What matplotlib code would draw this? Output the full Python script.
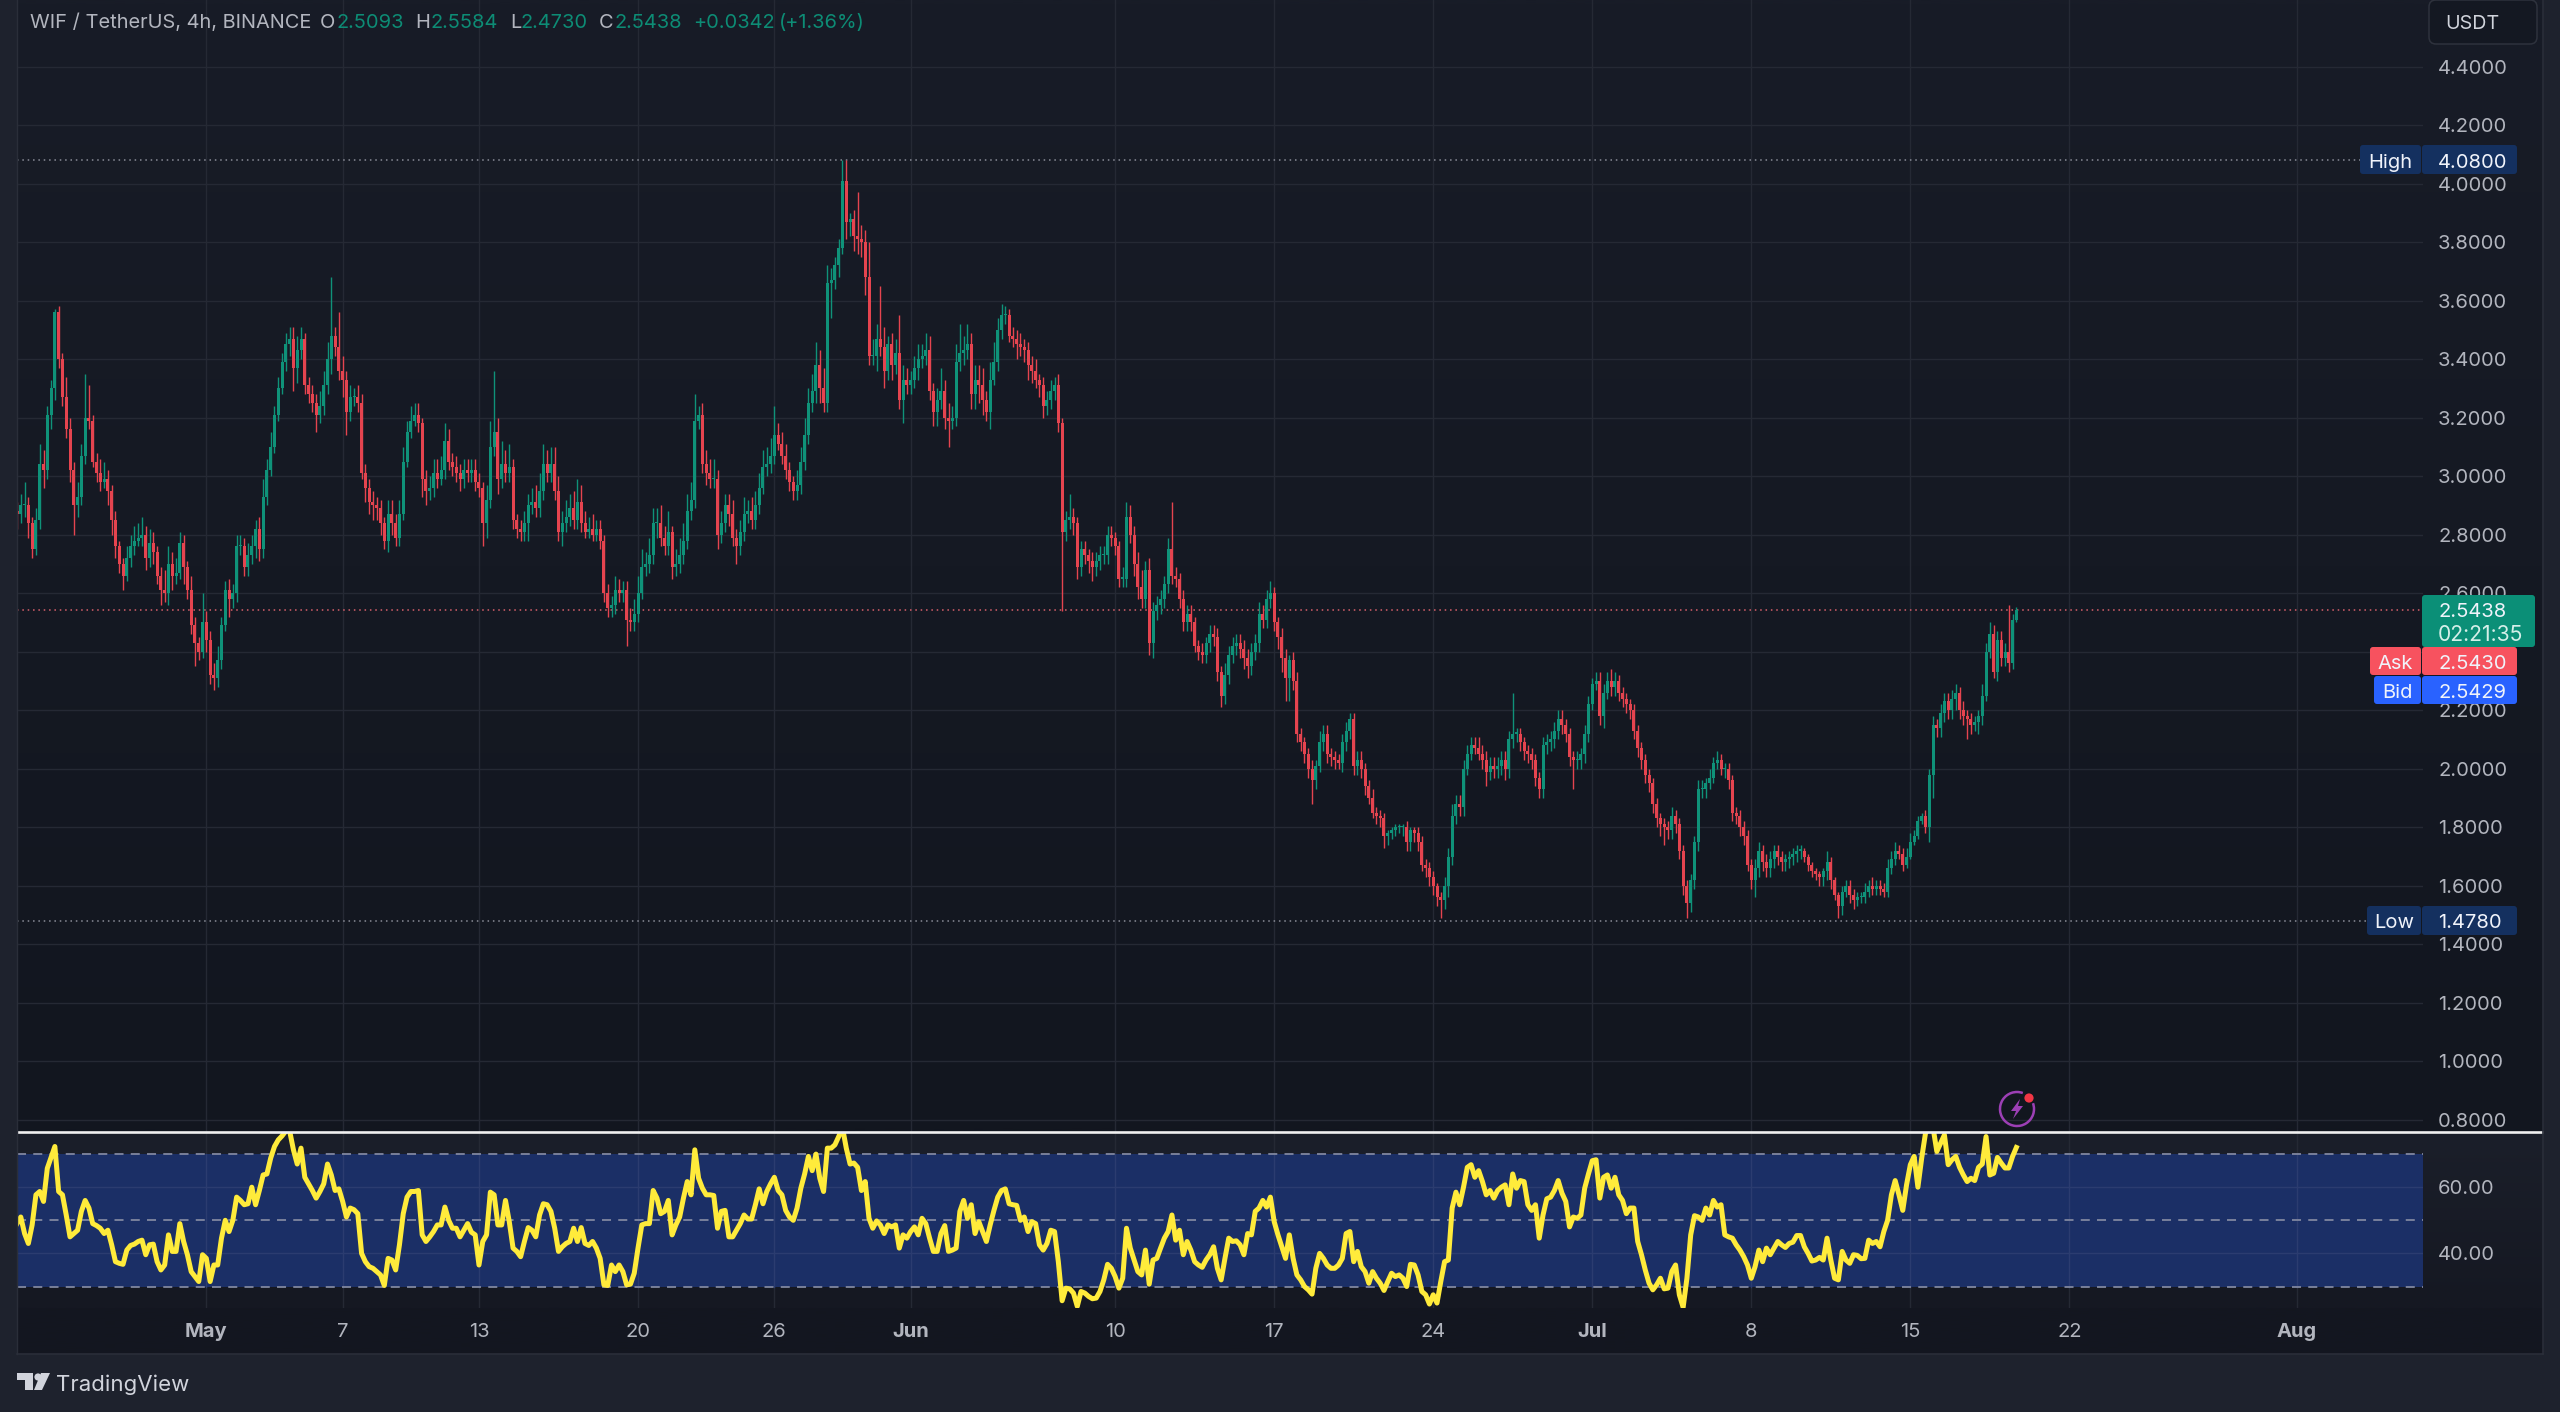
import numpy as np
import pandas as pd
import matplotlib
matplotlib.use("Agg")
import matplotlib.pyplot as plt
import matplotlib.dates as mdates
from matplotlib.patches import Rectangle, FancyBboxPatch, Polygon, Circle, Arc

plt.rcParams['font.family'] = ['Inter', 'DejaVu Sans']

# ---------- data ----------
first_open = 2.88
closes = [
2.87,2.90,2.90,2.84,2.75,2.85,3.04,3.02,3.21,3.30,3.56,3.40,3.27,3.16,3.02,2.90,2.93,3.07,3.20,3.19,
3.05,3.01,2.98,2.99,2.95,2.85,2.76,2.70,2.66,2.72,2.76,2.78,2.79,2.80,2.72,2.77,2.74,2.66,2.61,2.60,
2.70,2.66,2.67,2.77,2.69,2.61,2.49,2.43,2.40,2.50,2.44,2.32,2.31,2.37,2.49,2.61,2.58,2.60,2.76,2.76,
2.69,2.73,2.76,2.82,2.75,2.93,3.02,3.10,3.21,3.30,3.39,3.45,3.47,3.37,3.43,3.47,3.31,3.28,3.25,3.21,
3.24,3.31,3.40,3.48,3.44,3.36,3.33,3.22,3.27,3.27,3.25,3.01,2.96,2.91,2.90,2.89,2.84,2.78,2.87,2.84,
2.79,2.87,3.05,3.15,3.19,3.21,3.18,2.99,2.95,2.96,3.01,2.99,3.02,3.12,3.05,3.03,3.01,2.99,3.02,3.01,
3.02,2.98,2.96,2.84,2.92,3.10,3.15,2.99,3.04,3.01,3.03,2.85,2.82,2.81,2.84,2.90,2.91,2.89,2.95,3.04,
3.01,3.04,2.95,2.81,2.84,2.86,2.89,2.85,2.91,2.84,2.81,2.82,2.80,2.82,2.78,2.60,2.55,2.56,2.61,2.60,
2.61,2.51,2.50,2.53,2.60,2.69,2.70,2.73,2.84,2.84,2.79,2.76,2.81,2.69,2.70,2.73,2.78,2.88,2.92,3.19,
3.21,3.04,3.01,2.99,2.99,2.80,2.84,2.90,2.87,2.79,2.76,2.81,2.87,2.88,2.85,2.90,2.96,3.03,3.04,3.07,
3.14,3.11,3.07,3.02,2.98,2.95,2.97,3.05,3.14,3.25,3.29,3.38,3.30,3.25,3.66,3.67,3.72,3.78,4.01,3.87,
3.88,3.82,3.81,3.80,3.68,3.41,3.41,3.47,3.44,3.36,3.45,3.38,3.42,3.26,3.33,3.31,3.33,3.37,3.40,3.41,
3.43,3.29,3.22,3.26,3.29,3.20,3.19,3.20,3.39,3.42,3.43,3.45,3.28,3.33,3.31,3.26,3.22,3.33,3.39,3.50,
3.55,3.55,3.48,3.47,3.45,3.44,3.43,3.38,3.36,3.33,3.31,3.24,3.26,3.29,3.31,3.18,2.81,2.85,2.86,2.84,
2.69,2.75,2.73,2.71,2.69,2.71,2.73,2.73,2.80,2.79,2.76,2.65,2.65,2.86,2.80,2.70,2.62,2.58,2.68,2.43,
2.54,2.56,2.58,2.63,2.75,2.66,2.65,2.58,2.50,2.53,2.50,2.42,2.40,2.39,2.43,2.46,2.45,2.33,2.25,2.32,
2.39,2.42,2.43,2.41,2.38,2.35,2.40,2.43,2.53,2.51,2.58,2.60,2.50,2.45,2.38,2.31,2.37,2.30,2.12,2.09,
2.05,2.00,1.96,2.01,2.09,2.12,2.05,2.04,2.03,2.02,2.09,2.13,2.17,2.01,2.03,2.00,1.94,1.90,1.85,1.84,
1.83,1.77,1.78,1.79,1.80,1.80,1.80,1.75,1.79,1.78,1.75,1.67,1.66,1.63,1.60,1.56,1.55,1.60,1.70,1.84,
1.88,1.87,2.00,2.05,2.08,2.07,2.05,2.03,1.99,2.01,2.00,2.01,2.03,2.00,2.10,2.12,2.12,2.09,2.06,2.05,
2.03,1.97,1.93,2.08,2.09,2.10,2.13,2.17,2.15,2.12,2.04,2.03,2.03,2.05,2.12,2.22,2.29,2.30,2.18,2.26,
2.30,2.28,2.30,2.26,2.24,2.22,2.20,2.13,2.07,2.03,1.98,1.95,1.88,1.83,1.81,1.80,1.79,1.84,1.81,1.72,
1.60,1.54,1.62,1.75,1.93,1.93,1.95,1.97,2.02,2.03,2.00,2.00,1.96,1.85,1.84,1.80,1.77,1.67,1.62,1.66,
1.72,1.68,1.66,1.69,1.72,1.70,1.68,1.69,1.70,1.71,1.72,1.72,1.70,1.67,1.65,1.64,1.63,1.65,1.68,1.62,
1.57,1.53,1.58,1.60,1.57,1.55,1.56,1.56,1.58,1.60,1.59,1.60,1.59,1.58,1.66,1.69,1.72,1.71,1.67,1.70,
1.75,1.77,1.82,1.84,1.80,1.98,2.15,2.14,2.19,2.23,2.20,2.24,2.26,2.20,2.18,2.17,2.15,2.16,2.18,2.25,
2.40,2.46,2.33,2.44,2.38,2.40,2.36,2.51,2.5438]

# upper wick above the body, in cents
wick_up = [
3,4,8,3,2,4,7,5,3,3,1,2,2,7,4,3,5,4,15,11,
2,3,5,6,3,2,3,2,2,4,4,5,5,6,3,5,4,2,3,7,
6,4,5,4,3,2,5,3,2,10,4,3,4,5,3,3,4,3,4,4,
3,4,4,3,4,6,4,5,3,4,3,4,4,4,5,4,2,3,3,3,
5,5,6,20,3,12,5,3,4,3,4,3,3,3,4,3,3,2,5,5,
3,5,5,4,5,4,4,2,3,4,5,5,5,6,4,3,4,3,4,4,
4,4,3,2,5,9,21,5,8,5,8,3,2,3,4,4,5,6,6,7,
5,6,6,5,4,6,5,6,8,6,4,4,5,3,3,2,3,3,5,4,
3,3,4,5,6,6,4,6,5,5,6,4,7,2,5,6,6,6,6,9,
3,4,5,5,7,3,4,4,4,5,3,4,6,4,5,5,5,6,6,6,
10,4,4,4,3,2,5,5,6,5,6,8,5,7,6,4,3,3,7,7,
2,3,15,5,4,12,6,5,18,7,3,4,5,13,5,4,3,4,5,4,
6,5,3,4,8,4,5,4,6,10,5,7,4,5,5,6,3,6,7,4,
4,3,2,3,3,4,3,3,3,4,2,3,3,4,3,4,2,3,8,3,
2,3,3,2,3,3,3,3,3,3,2,2,4,5,4,3,4,6,3,4,
3,3,3,3,4,16,3,2,3,3,3,2,2,3,2,3,3,3,2,4,
3,3,3,3,3,3,3,3,4,3,3,4,2,2,3,3,2,3,3,2,
2,2,3,2,4,3,3,2,2,2,3,3,2,2,3,3,2,2,3,2,
2,2,1,1,1,1,1,2,1,1,2,2,2,2,2,1,2,3,3,4,
3,3,3,3,3,3,4,3,3,3,3,3,3,3,3,14,2,2,2,2,
2,2,2,3,3,3,3,3,3,2,2,2,3,2,3,3,2,3,3,3,
3,4,3,2,2,2,2,2,2,2,2,2,2,2,2,2,2,3,2,2,
2,2,2,2,3,3,2,3,2,3,2,2,2,2,2,2,2,2,2,3,
3,2,3,3,2,2,2,2,2,2,2,2,1,1,1,1,1,1,4,2,
1,1,2,2,2,2,2,2,3,2,3,2,2,2,3,3,3,2,2,3,
3,2,2,1,2,2,3,2,3,3,3,3,3,2,3,2,2,2,2,4,
3,4,3,3,3,3,16,2,1]

# lower wick below the body, in cents
wick_dn = [
5,3,4,5,3,2,3,6,3,5,4,3,3,3,4,10,4,3,3,3,
2,3,3,2,5,5,4,3,5,2,3,3,2,3,4,3,4,3,5,3,
4,5,3,2,6,3,3,8,3,2,4,3,4,3,3,2,6,3,3,3,
3,3,3,4,4,3,3,2,2,2,2,3,4,8,5,3,3,3,3,6,
3,3,3,5,3,3,6,8,3,3,3,2,5,4,5,4,4,3,4,4,
3,3,2,2,2,2,3,6,5,3,3,3,2,3,3,3,3,4,3,3,
3,3,3,8,5,3,3,5,3,3,3,3,3,3,3,6,3,3,3,3,
3,3,3,3,5,3,3,3,3,3,2,2,2,2,3,3,3,3,3,3,
3,9,3,3,3,2,3,3,3,5,3,3,3,4,3,3,3,3,3,3,
3,3,4,3,3,5,3,3,4,3,6,3,3,3,3,3,3,2,3,3,
3,2,3,3,3,3,3,3,3,3,3,4,5,3,3,12,3,4,2,6,
5,5,5,5,6,3,3,5,3,6,3,5,3,3,8,3,3,3,4,3,
3,3,5,5,3,4,9,3,3,3,4,3,5,5,6,5,3,6,2,3,
3,3,2,3,5,3,4,5,4,3,4,4,3,3,3,3,27,3,3,4,
4,3,3,4,5,3,3,3,3,3,3,3,3,3,3,4,4,3,3,4,
5,3,3,3,3,3,3,3,3,3,3,2,3,3,3,3,3,3,4,3,
3,3,3,3,4,4,3,3,3,3,3,3,3,4,5,8,8,3,3,3,
3,3,8,3,2,3,3,3,3,2,3,3,3,3,3,3,3,2,2,3,
3,4,3,2,2,2,3,3,3,3,3,2,3,3,3,3,6,3,4,3,
3,3,3,2,2,2,2,3,5,3,3,3,3,4,3,3,3,3,3,3,
3,3,3,3,3,3,3,3,3,3,3,10,3,3,3,3,2,2,3,4,
2,3,3,3,3,3,3,3,3,3,3,3,3,3,4,6,3,3,3,3,
3,5,3,3,3,3,3,2,2,2,2,3,3,3,3,3,3,2,3,6,
3,3,3,3,3,3,3,3,3,3,3,3,2,2,2,2,3,3,3,3,
2,4,3,2,3,3,2,2,2,2,2,2,2,2,2,2,2,2,2,1,
1,1,1,1,2,5,8,3,3,3,3,3,4,3,3,7,3,2,4,3,
2,2,2,3,3,3,3,2,1]

rsi = [
49,51,46,43,48.6,57.7,58.7,55.7,65.7,69,72.3,58.7,57.7,51.6,45,46,47,52.7,56,53.7,
49,48.4,47.6,46,47,42.6,37.5,37,36.7,41,42.4,42.8,43.6,44,39.6,42.6,42.8,37.5,35,36.5,
45.6,40.6,40.6,49,43.6,39.6,34.5,33,31.5,39.6,38.5,31.5,36.5,36.5,44.6,50,46.6,50,57,56,
54.7,55,60,54.7,59,63.7,64,68.8,72.3,74.3,75.5,77,77,71.3,67,71.8,63,61,59,56.7,
58.7,61,67,63.7,59,59.5,55.7,51,53.7,53.2,52,40,37.5,36,35.5,34.5,33.5,30.3,38.5,38,
35,42.6,52,57,58.7,58.7,59,45.6,43.6,45,46.6,48.6,48.6,54,50,47.6,47.6,45,47,49,
46.4,45.6,36.5,43.6,45.6,58.5,57.7,48.6,48.6,56,49.6,41.6,40.6,39,43.6,47.8,47,45,51.6,55,
54.7,52.7,47.6,40.6,42,43,43.6,47.6,43.6,47.8,43,42.4,43.6,41.6,38.5,30.5,30.3,36.5,34.5,36.5,
34.5,30.5,30.7,34,41.6,48.6,49,49,59,56.7,52,52.7,56,45.6,48.6,51,56.7,61.7,57.7,71.3,
62.7,59.7,57.7,57.7,57.5,47.6,52.7,53,45,45,47,49,51.6,50.4,50.4,54.7,59.5,55,58.7,61,
63,59,57.7,53,51,50,53.7,59.7,64,69.3,65,70,62.7,58.7,71.8,71.8,72.8,75.3,78,71.8,
67,67.3,66,59,61.7,50.6,47.6,49.8,48.6,46,48.6,48,48.6,41.6,45.6,44.6,46.6,48,45.6,50.6,
49,44.6,40.6,40.6,46,48.4,40.6,41,41.6,52.7,56,50.6,54.7,46,49.6,46.6,43.6,48.6,53,57,
59,59.5,55,54.7,54.5,50,51,46.6,49.6,49,42.6,41,43,47,46.6,37.5,25.7,29.5,29.3,28,
24,28.5,28,27,26.3,26.5,28.5,32,36.7,35.5,33,29.5,32.5,47.6,41.6,38,34.5,33.5,41,30.7,
38,38.5,41.6,44.6,46.6,51.6,44,47,39.6,43.6,41,37.5,36.5,35.8,38,39.6,42,35.5,32,38.5,
44.6,43.6,43.8,42.6,39.6,46,45.6,52.7,53.7,56,54,57,49.6,45.6,42,38.5,45.6,38.5,33.5,32,
30,29,27.7,35.5,40,38.5,36.5,35.5,35.5,36.5,38.5,46,46.6,37.5,40.6,36,34.5,31,34.5,32.5,
31,28.8,31.5,34,33,33.5,32.5,30,36.7,36.5,33.5,28.5,27.5,24.7,27.5,25,31.5,37.5,38,53.7,
58.5,54.7,60,66,66.8,63,65,61.7,57.7,59,56.7,59,60,60.7,54.7,64,59.7,62,61.7,54.7,
53,54.7,44.6,51.6,56.5,57,59,62,58.2,55.7,48,51,50.6,51.6,59.7,64,68,68.3,56.7,63,
63.7,59.7,63,57.7,56,52,53.7,53.7,43.6,39.6,35,31,29,30.5,32.5,29.3,29.5,34.5,36.5,27.5,
23.7,32.5,45.6,51.4,51,50,53.7,51.6,56,54,54.7,45.6,45,44.6,42.6,41,39,36.5,32.5,36,
41,37.5,41.6,39.6,41.6,43.6,42.6,41.8,43,43.4,45.4,45.4,42,40,37.7,38,38.8,38,44.6,38,
32.5,32,40.6,38,37,39.6,39.4,38.4,38.5,44,43,43.6,42,46.6,50,57.7,62,57.7,53,60.7,
66.8,69.3,60,68.8,76.3,78,78,70.8,73.3,75.8,66.8,68.3,69.3,66,63.7,61.7,62.7,62,66,67,
75.3,63.7,64.2,69,67.3,65.8,65.8,69.3,72]

price_ticks = [0.8,1.0,1.2,1.4,1.6,1.8,2.0,2.2,2.4,2.6,2.8,3.0,3.2,3.4,3.6,3.8,4.0,4.2,4.4]
hidden_ticks = [2.4]  # sits fully behind the Ask label in the reference
rsi_ticks = [40, 60]
rsi_levels = [30, 50, 70]
date_ticks = ['2024-05-01','2024-05-07','2024-05-13','2024-05-20','2024-05-26','2024-06-01',
              '2024-06-10','2024-06-17','2024-06-24','2024-07-01','2024-07-08','2024-07-15',
              '2024-07-22','2024-08-01']
date_labels = ['May','7','13','20','26','Jun','10','17','24','Jul','8','15','22','Aug']
high_price, low_price, last_price = 4.08, 1.478, 2.5438

n = min(len(closes), len(wick_up), len(wick_dn), len(rsi))

closes_a = np.array(closes[:n])
opens_a = np.r_[first_open, closes_a[:-1]]
tops = np.maximum(opens_a, closes_a)
bots = np.minimum(opens_a, closes_a)
highs = tops + np.array(wick_up[:n]) / 100
lows = bots - np.array(wick_dn[:n]) / 100
times = mdates.date2num(pd.date_range('2024-04-22 16:00', periods=n, freq='4h'))

# ---------- layout (pixels) ----------
W, H = 2560, 1412
L, R, FR = 17, 2423, 2543
PANE_Y, RSI_B, FRAME_B = 1132, 1308, 1354
P44_Y = 66.5      # pixel row of price 4.4
R30_Y = 1286.5    # pixel row of RSI 30
PX_DAY = 22.72
def axrect(x0, y0, x1, y1):
    return [x0/W, 1-y1/H, (x1-x0)/W, (y1-y0)/H]

BG_FOOT = '#1e222d'
GRID = '#252934'
TXT = '#b2b5be'
GREEN, RED = '#0f9279', '#e5444f'
TICK_FS = 14.5

fig = plt.figure(figsize=(W/100, H/100), dpi=100, facecolor=BG_FOOT)

# background
bg = fig.add_axes([0, 0, 1, 1], zorder=-1)
bg.set_xlim(0, W); bg.set_ylim(H, 0); bg.axis('off')
def grad(y0, y1, c0, c1):
    c0 = np.array(matplotlib.colors.to_rgb(c0)); c1 = np.array(matplotlib.colors.to_rgb(c1))
    t = np.linspace(0, 1, 128)[:, None, None]
    img = c0[None, None, :]*(1-t) + c1[None, None, :]*t
    bg.imshow(img, extent=(L, FR, y1, y0), aspect='auto', interpolation='bilinear', zorder=0)
grad(0, PANE_Y, '#181c27', '#12161f')
grad(PANE_Y, RSI_B, '#1b1f2a', '#151822')
grad(RSI_B, FRAME_B, '#141720', '#131620')
bg.set_xlim(0, W); bg.set_ylim(H, 0)

xlim = (times[0], times[0] + (R-L)/PX_DAY)
tick_x = mdates.date2num(pd.to_datetime(date_ticks))

# main price pane
ax = fig.add_axes(axrect(L, 0, R, PANE_Y), zorder=1)
ax.patch.set_alpha(0)
ax.set_xlim(*xlim)
ax.set_ylim(4.4-(PANE_Y-P44_Y)/292.6, 4.4+P44_Y/292.6)
for s in ax.spines.values(): s.set_visible(False)
ax.set_xticks(tick_x); ax.set_xticklabels([])
ax.set_yticks(price_ticks)
ax.set_yticklabels(['' if v in hidden_ticks else f'{v:.4f}' for v in price_ticks])
ax.yaxis.tick_right()
ax.tick_params(axis='y', length=0, pad=10.8, labelsize=TICK_FS, labelcolor=TXT)
ax.tick_params(axis='x', length=0)
ax.grid(True, color=GRID, lw=1.0)
ax.set_axisbelow(True)

up = closes_a >= opens_a
cols = np.where(up, GREEN, RED)
ax.vlines(times, lows, highs, colors=cols, lw=1.0, zorder=3)
ax.bar(times, np.maximum(tops-bots, 0.004), bottom=bots, width=3.0/PX_DAY, color=cols, lw=0, zorder=4)

ax.axhline(high_price, xmin=0, xmax=(2360-L)/(R-L), color='#8a8d98', lw=1.1, ls=(0, (1, 2.5)), zorder=2)
ax.axhline(low_price, xmin=0, xmax=(2367-L)/(R-L), color='#8a8d98', lw=1.1, ls=(0, (1, 2.5)), zorder=2)
ax.axhline(last_price, color='#d9606b', lw=1.1, ls=(0, (1, 2.5)), zorder=2)

# RSI pane
rx = fig.add_axes(axrect(L, PANE_Y, R, RSI_B), zorder=2)
rx.patch.set_alpha(0)
rx.set_xlim(*xlim)
rx.set_ylim(30-(RSI_B-R30_Y)/3.31, 30+(R30_Y-PANE_Y)/3.31)
for s in rx.spines.values(): s.set_visible(False)
rx.set_xticks(tick_x)
rx.set_xticklabels(date_labels)
rx.set_yticks(rsi_ticks)
rx.set_yticklabels([f'{v:.2f}' for v in rsi_ticks])
rx.yaxis.tick_right()
rx.tick_params(axis='y', length=0, pad=10.8, labelsize=TICK_FS, labelcolor=TXT)
rx.tick_params(axis='x', length=0, pad=11, labelsize=TICK_FS, labelcolor=TXT)
for lab in rx.get_xticklabels():
    if lab.get_text() in ('May', 'Jun', 'Jul', 'Aug'):
        lab.set_fontweight('bold')
rx.grid(True, color=GRID, lw=1.0)
rx.set_axisbelow(True)
rx.axhspan(min(rsi_levels), max(rsi_levels), color='#1b2f66', lw=0, zorder=1)
for t in rsi_ticks:
    rx.axhline(t, color='#2b3c70', lw=1.0, zorder=1.2)
y0_, y1_ = rx.get_ylim()
for v in tick_x:
    rx.axvline(v, ymin=(30-y0_)/(y1_-y0_), ymax=(70-y0_)/(y1_-y0_), color='#2b3c70', lw=1.0, zorder=1.2)
for lv in rsi_levels:
    rx.axhline(lv, color='#8087a0', lw=1.3, ls=(0, (5, 4)), zorder=2)
rx.plot(times, rsi[:n], color='#ffeb3b', lw=3.6, zorder=5, solid_joinstyle='round')

# overlay: labels and furniture, in pixels
ov = fig.add_axes([0, 0, 1, 1], zorder=5)
ov.set_xlim(0, W); ov.set_ylim(H, 0); ov.axis('off')

# frame and pane separator
ov.plot([L, FR], [PANE_Y, PANE_Y], color='#f0f0f0', lw=1.9, solid_capstyle='butt')
ov.plot([L, FR], [FRAME_B, FRAME_B], color='#2a2e39', lw=1.2)
ov.plot([FR, FR], [0, FRAME_B], color='#2a2e39', lw=1.2)
ov.plot([L, L], [0, FRAME_B], color='#2a2e39', lw=1.0)

def box(x0, y0, x1, y1, color, rad=3):
    ov.add_patch(FancyBboxPatch((x0+rad, y0+rad), x1-x0-2*rad, y1-y0-2*rad,
                                boxstyle=f'round,pad={rad},rounding_size={rad}',
                                fc=color, ec='none', mutation_aspect=1))

def txt(x, y, s, color=TXT, size=TICK_FS, **kw):
    ov.text(x, y, s, color=color, fontsize=size, va='center_baseline', ha=kw.pop('ha', 'left'), **kw)

# price labels
NAVY = '#14305f'
for (lab, val, lx, y0, y1, col) in [
    ('High', f'{high_price:.4f}', 2360, 145, 174, NAVY),
    ('Low', f'{low_price:.4f}', 2367, 906, 935, NAVY),
    ('Ask', '2.5430', 2370, 647, 675, '#f7525f'),
    ('Bid', '2.5429', 2374, 676, 704, '#2962ff')]:
    box(lx, y0, 2421, y1, col)
    box(2422, y0, 2517, y1, col)
    txt(lx+(2421-lx)/2, (y0+y1)/2+1, lab, color='#f0f3fa', ha='center')
    txt(2438, (y0+y1)/2+1, val, color='#f0f3fa')
box(2422, 595, 2535, 647, '#0b8f77')
txt(2438, 610, f'{last_price:.4f}', color='#f0f3fa')
txt(2438, 633, '02:21:35', color='#d5efe9', size=15.2)

# currency button
ov.add_patch(FancyBboxPatch((2435, 6), 96, 32, boxstyle='round,pad=6,rounding_size=7',
                            fc='#141822', ec='#2e323d', lw=1.1))
txt(2445, 22, 'USDT', color='#d1d4dc', size=14.2)

# legend row
txt(30, 21, 'WIF / TetherUS, 4h, BINANCE', size=14.4)
G2 = '#0d8c75'
for x, s, c in [(320, 'O', TXT), (337, '2.5093', G2), (415, 'H', TXT), (431, '2.5584', G2),
                (510, 'L', TXT), (521, '2.4730', G2), (599, 'C', TXT), (614, '2.5438', G2),
                (693, '+0.0342', G2), (779, '(+1.36%)', G2)]:
    txt(x, 21, s, color=c, size=14.4)

# TradingView mark
LOGO = '#d1d4dc'
ov.add_patch(Polygon([(17, 1373), (33, 1373), (33, 1390), (25, 1390), (25, 1380), (17, 1380)], fc=LOGO, ec='none'))
ov.add_patch(Circle((38, 1377), 3.6, fc=LOGO, ec='none'))
ov.add_patch(Polygon([(41, 1373), (50, 1373), (42, 1390), (34, 1390)], fc=LOGO, ec='none'))
txt(56, 1383, 'TradingView', color='#d1d4dc', size=16)

# marker above the last candle
PUR = '#9c3fb5'
ov.add_patch(Arc((2017, 1109), 34, 34, theta1=-20, theta2=290, ec=PUR, lw=1.8))
ov.add_patch(Polygon([(2020, 1099), (2011, 1111), (2016, 1111), (2013, 1119), (2023, 1106), (2018, 1106)], fc=PUR, ec='none'))
ov.add_patch(Circle((2029, 1098), 4.6, fc='#f23645', ec='none'))

fig.savefig('out.png', dpi=100, facecolor=BG_FOOT)
